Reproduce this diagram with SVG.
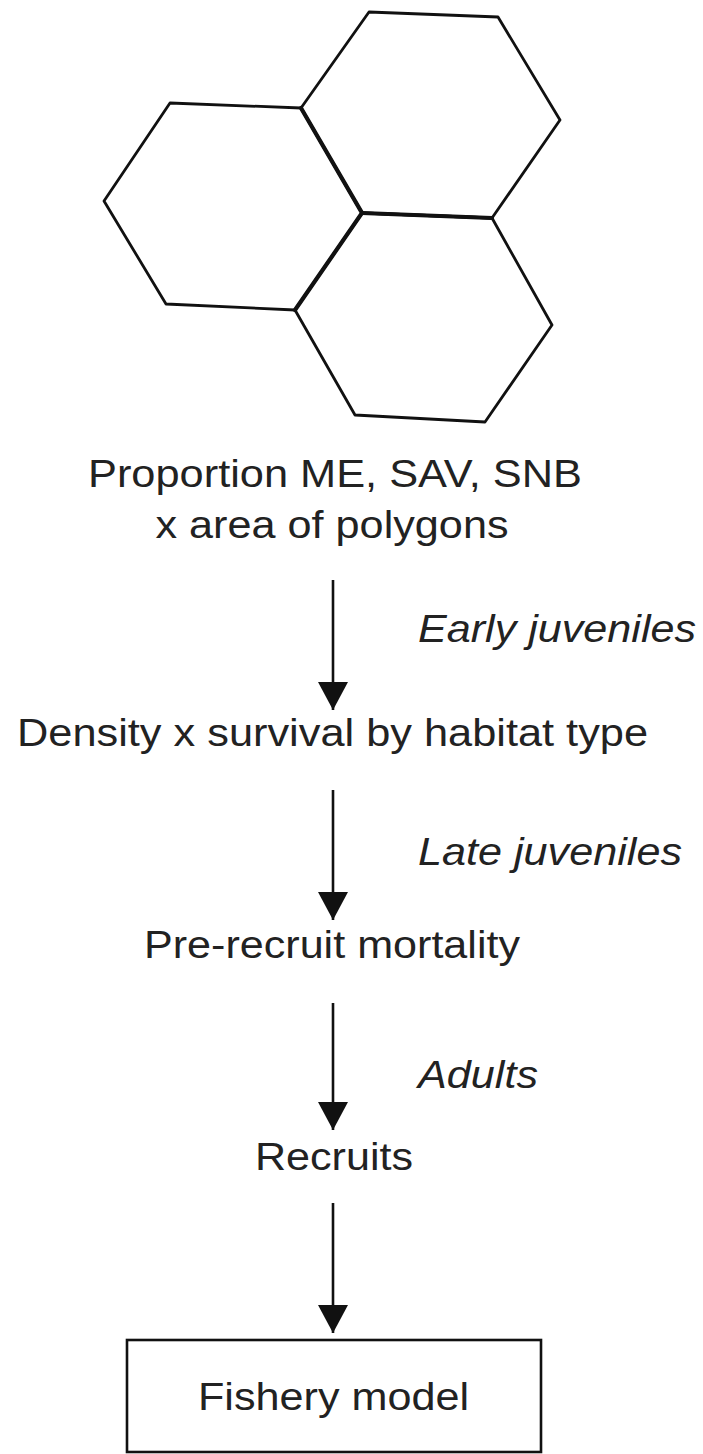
<svg xmlns="http://www.w3.org/2000/svg" width="703" height="1454" viewBox="0 0 703 1454">
<style>
.hex{fill:none;stroke:#111;stroke-width:2.8;stroke-linejoin:round}
.shared{fill:none;stroke:#111;stroke-width:4.2;stroke-linecap:round}
.t{font-family:"Liberation Sans",Arial,sans-serif;font-size:38px;fill:#222}
.i{font-style:italic}
.ln{stroke:#111;stroke-width:2.6}
.box{fill:#fff;stroke:#111;stroke-width:2.6}
</style>
<defs>
<marker id="ah" viewBox="0 0 28 30" refX="28" refY="15" markerWidth="28" markerHeight="30" markerUnits="userSpaceOnUse" orient="auto">
<path d="M0,0 L28,15 L0,30 Z" fill="#111"/>
</marker>
</defs>
<rect width="703" height="1454" fill="#fff"/>
<g id="hexagons">
<polygon class="hex" points="170,103 301,108 362,213 295,310 166,304 104,201"/>
<polygon class="hex" points="369,12 498,17 560,120 492,218 362,213 301,108"/>
<polygon class="hex" points="362,213 492,218 552,325 485,422 355,415 295,310"/>
<polyline class="shared" points="301,108 362,213 295,310"/>
<line class="shared" x1="362" y1="213" x2="492" y2="218"/>
</g>
<g id="proportion">
<text class="t" x="335" y="487" text-anchor="middle" textLength="494" lengthAdjust="spacingAndGlyphs">Proportion ME, SAV, SNB</text>
<text class="t" x="332" y="538" text-anchor="middle" textLength="353" lengthAdjust="spacingAndGlyphs">x area of polygons</text>
</g>
<g id="density">
<text class="t" x="17" y="746" textLength="631" lengthAdjust="spacingAndGlyphs">Density x survival by habitat type</text>
</g>
<g id="prerecruit">
<text class="t" x="144" y="958" textLength="376" lengthAdjust="spacingAndGlyphs">Pre-recruit mortality</text>
</g>
<g id="recruits">
<text class="t" x="255" y="1170" textLength="158" lengthAdjust="spacingAndGlyphs">Recruits</text>
</g>
<g id="fishery">
<rect class="box" x="127" y="1340" width="414" height="112"/>
<text class="t" x="198" y="1410" textLength="271" lengthAdjust="spacingAndGlyphs">Fishery model</text>
</g>
<g id="connectors">
<line class="ln" x1="333" y1="580" x2="333" y2="710" marker-end="url(#ah)"/>
<line class="ln" x1="333" y1="790" x2="333" y2="920" marker-end="url(#ah)"/>
<line class="ln" x1="333" y1="1003" x2="333" y2="1130" marker-end="url(#ah)"/>
<line class="ln" x1="333" y1="1203" x2="333" y2="1333" marker-end="url(#ah)"/>
<text class="t i" x="418" y="642" textLength="278" lengthAdjust="spacingAndGlyphs">Early juveniles</text>
<text class="t i" x="418" y="865" textLength="264" lengthAdjust="spacingAndGlyphs">Late juveniles</text>
<text class="t i" x="418" y="1088" textLength="120" lengthAdjust="spacingAndGlyphs">Adults</text>
</g>
</svg>
